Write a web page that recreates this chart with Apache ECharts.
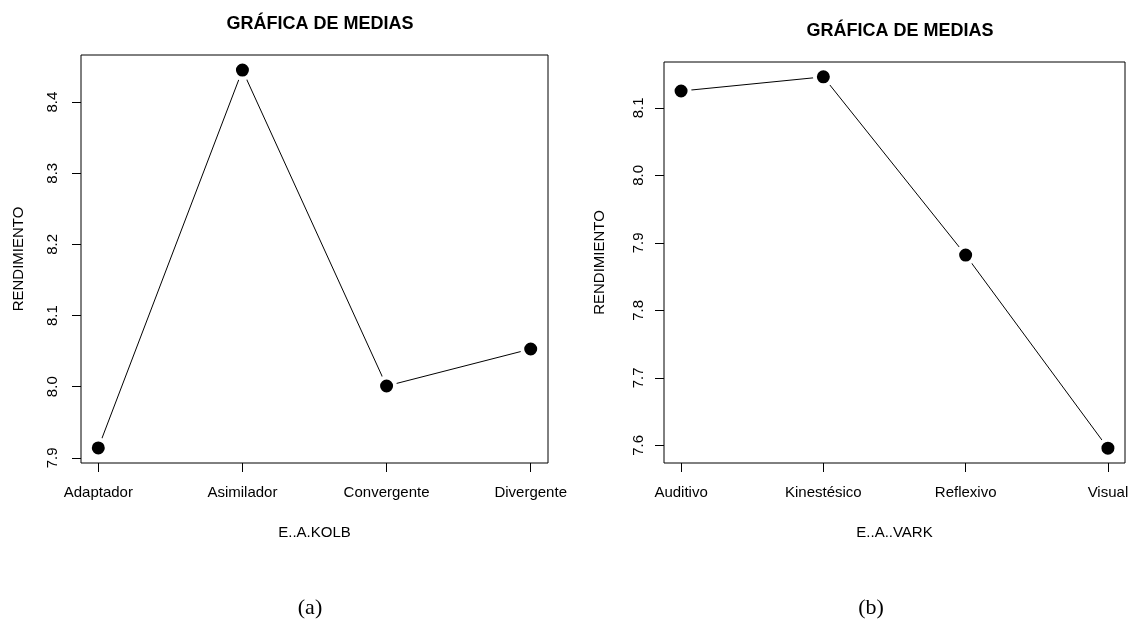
<!DOCTYPE html>
<html>
<head>
<meta charset="utf-8">
<script src="https://cdn.jsdelivr.net/npm/echarts@6/dist/echarts.min.js"></script>
<style>
html,body{margin:0;padding:0;background:#fff;}
#chart{width:1137px;height:631px;}
</style>
</head>
<body>
<div id="chart"></div>
<script>
// ---- data ----
const catsA = ['Adaptador', 'Asimilador', 'Convergente', 'Divergente'];
const valsA = [7.914, 8.445, 8.001, 8.053];
const catsB = ['Auditivo', 'Kinestésico', 'Reflexivo', 'Visual'];
const valsB = [8.125, 8.146, 7.882, 7.596];
const yTicksA = [7.9, 8.0, 8.1, 8.2, 8.3, 8.4];
const yTicksB = [7.6, 7.7, 7.8, 7.9, 8.0, 8.1];
const xTicks = [1, 2, 3, 4];
const titleText = 'GRÁFICA DE MEDIAS';
const xNameA = 'E..A.KOLB';
const xNameB = 'E..A..VARK';
const yName = 'RENDIMIENTO';
const captions = ['(a)', '(b)'];

// R-style 4% axis extension
function ext(vals) {
  const lo = Math.min(...vals), hi = Math.max(...vals);
  const r = hi - lo;
  return [lo - 0.04 * r, hi + 0.04 * r];
}
const rA = ext(valsA), rB = ext(valsB);
const rX = ext(xTicks);

const FONT = '"Liberation Sans", Arial, sans-serif';
const txt = {color: '#000', fontFamily: FONT, fontSize: 15};

function xAxisDef(gi, cats, name) {
  return {
    type: 'value', gridIndex: gi, min: rX[0], max: rX[1],
    name: name, nameLocation: 'middle', nameGap: 62,
    nameTextStyle: Object.assign({}, txt),
    axisLine: {show: false},
    splitLine: {show: false},
    axisTick: {show: true, inside: false, length: 9, customValues: xTicks, lineStyle: {color: '#000', width: 1}},
    axisLabel: Object.assign({show: true, margin: 22, customValues: xTicks,
      formatter: v => cats[Math.round(v) - 1] || ''}, txt)
  };
}
function yAxisDef(gi, range, ticks, nameGap, labMargin) {
  return {
    type: 'value', gridIndex: gi, min: range[0], max: range[1],
    name: yName, nameLocation: 'middle', nameGap: nameGap, nameRotate: 90,
    nameTextStyle: Object.assign({}, txt),
    axisLine: {show: false},
    splitLine: {show: false},
    axisTick: {show: true, inside: false, length: 9, customValues: ticks, lineStyle: {color: '#000', width: 1}},
    axisLabel: Object.assign({show: true, rotate: 90, margin: labMargin, customValues: ticks,
      formatter: v => v.toFixed(1)}, txt)
  };
}
function seriesDef(gi, vals) {
  return {
    type: 'line', xAxisIndex: gi, yAxisIndex: gi,
    data: vals.map((v, i) => [xTicks[i], v]),
    symbol: 'circle', symbolSize: 17,
    itemStyle: {color: '#000', borderColor: '#fff', borderWidth: 4},
    lineStyle: {color: '#000', width: 1},
    emphasis: {disabled: true}, animation: false
  };
}

const chart = echarts.init(document.getElementById('chart'), null, {renderer: 'canvas'});
chart.setOption({
  backgroundColor: '#fff',
  animation: false,
  title: [
    {text: titleText, left: 315, top: 10, textAlign: 'center',
     textStyle: {color: '#000', fontFamily: FONT, fontSize: 18, fontWeight: 'bold'}},
    {text: titleText, left: 895, top: 17, textAlign: 'center',
     textStyle: {color: '#000', fontFamily: FONT, fontSize: 18, fontWeight: 'bold'}},
    {text: captions[0], left: 305, top: 592, textAlign: 'center',
     textStyle: {color: '#000', fontFamily: '"Liberation Serif", "Times New Roman", serif', fontSize: 22, fontWeight: 'normal'}},
    {text: captions[1], left: 866, top: 592, textAlign: 'center',
     textStyle: {color: '#000', fontFamily: '"Liberation Serif", "Times New Roman", serif', fontSize: 22, fontWeight: 'normal'}}
  ],
  grid: [
    {left: 81, top: 55, width: 467, height: 408, show: true, borderColor: '#000', borderWidth: 1, backgroundColor: 'transparent'},
    {left: 664, top: 62, width: 461, height: 401, show: true, borderColor: '#000', borderWidth: 1, backgroundColor: 'transparent'}
  ],
  xAxis: [xAxisDef(0, catsA, xNameA), xAxisDef(1, catsB, xNameB)],
  yAxis: [yAxisDef(0, rA, yTicksA, 55, 21), yAxisDef(1, rB, yTicksB, 57, 18)],
  series: [seriesDef(0, valsA), seriesDef(1, valsB)]
});
</script>
</body>
</html>
